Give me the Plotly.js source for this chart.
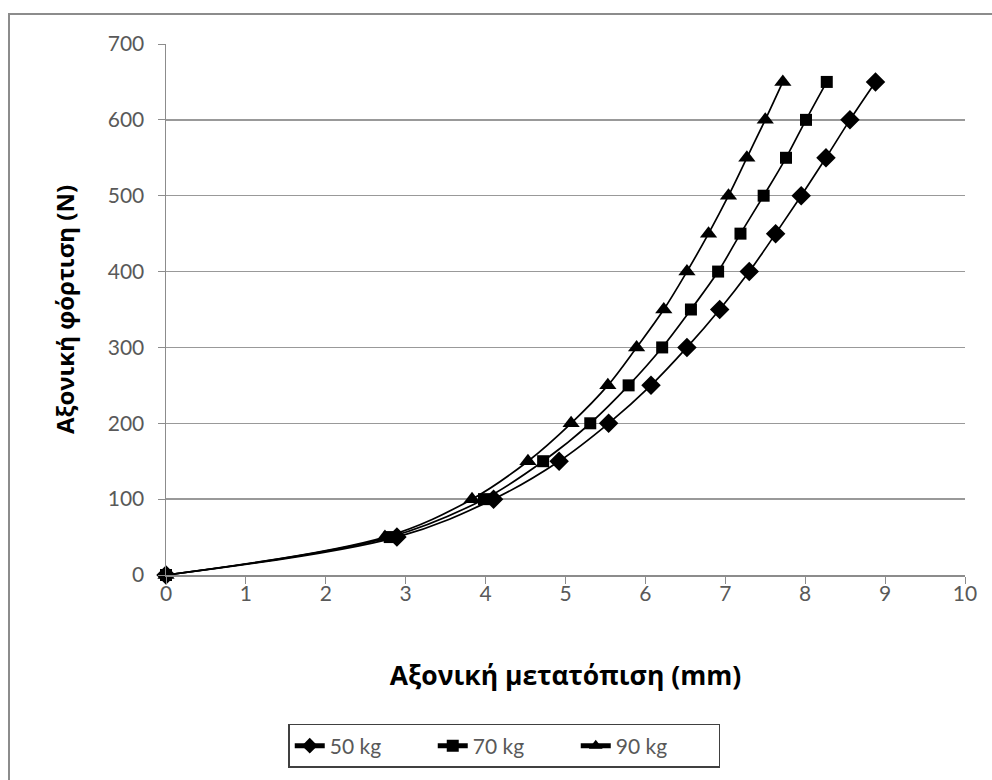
<!DOCTYPE html>
<html>
<head>
<meta charset="utf-8">
<script src="https://cdn.plot.ly/plotly-3.0.1.min.js"></script>
<style>
  html, body { margin: 0; padding: 0; background: #ffffff; }
  #chart { width: 992px; height: 780px; }
</style>
</head>
<body>
<div id="chart"></div>
<script>
// Axial load (N) versus axial displacement (mm) for three body masses
const loadN = [0, 50, 100, 150, 200, 250, 300, 350, 400, 450, 500, 550, 600, 650];
const disp50kg = [0, 2.89, 4.10, 4.92, 5.54, 6.07, 6.52, 6.93, 7.30, 7.63, 7.95, 8.26, 8.56, 8.88];
const disp70kg = [0, 2.80, 3.98, 4.72, 5.31, 5.79, 6.21, 6.57, 6.91, 7.19, 7.48, 7.76, 8.01, 8.27];
const disp90kg = [0, 2.74, 3.83, 4.53, 5.07, 5.53, 5.89, 6.23, 6.52, 6.79, 7.04, 7.27, 7.50, 7.72];
const seriesNames = ['50 kg', '70 kg', '90 kg'];
const xTicks = [0, 1, 2, 3, 4, 5, 6, 7, 8, 9, 10];
const yTicks = [0, 100, 200, 300, 400, 500, 600, 700];

const symbols = ['diamond', 'square', 'triangle-up'];
const sizes = [15, 12, 15];
const dispSeries = [disp50kg, disp70kg, disp90kg];

const traces = dispSeries.map((xs, i) => ({
  x: xs,
  y: loadN,
  name: seriesNames[i],
  type: 'scatter',
  mode: 'lines+markers',
  cliponaxis: false,
  line: { color: '#000000', width: 1.7, shape: 'spline', smoothing: 1 },
  marker: { symbol: symbols[i], size: sizes[i], color: '#000000' }
}));

const tickFont = { family: 'Lato, "Open Sans", sans-serif', size: 21, color: '#595959' };
const titleFontX = { family: '"Open Sans", "Noto Sans", sans-serif', size: 26.5, color: '#000000', weight: 'bold' };
const titleFontY = { family: '"Open Sans", "Noto Sans", sans-serif', size: 24, color: '#000000', weight: 'bold' };

const layout = {
  width: 992,
  height: 780,
  paper_bgcolor: '#ffffff',
  plot_bgcolor: '#ffffff',
  margin: { l: 166, r: 27, t: 44, b: 205 },
  showlegend: true,
  xaxis: {
    range: [0, 10],
    tickvals: xTicks,
    ticktext: xTicks.map(String),
    showgrid: false,
    zeroline: false,
    showline: true,
    linecolor: '#8c8c8c',
    linewidth: 1.5,
    ticks: 'outside',
    ticklen: 7,
    tickcolor: '#8c8c8c',
    ticklabelstandoff: -8,
    tickfont: tickFont,
    title: { text: 'Αξονική μετατόπιση (mm)', font: titleFontX, standoff: 62 }
  },
  yaxis: {
    range: [0, 700],
    tickvals: yTicks,
    ticktext: yTicks.map(String),
    showgrid: true,
    gridcolor: '#999999',
    gridwidth: 1.5,
    zeroline: false,
    showline: true,
    linecolor: '#8c8c8c',
    linewidth: 1.5,
    ticks: 'outside',
    ticklen: 7,
    tickcolor: '#8c8c8c',
    ticklabelstandoff: 9,
    tickfont: tickFont,
    title: { text: 'Αξονική φόρτιση (N)', font: titleFontY, standoff: 26 }
  },
  legend: {
    orientation: 'h',
    x: 0.153,
    xanchor: 'left',
    y: -0.2806,
    yanchor: 'top',
    bordercolor: '#404040',
    borderwidth: 1.5,
    bgcolor: '#ffffff',
    entrywidth: 98,
    entrywidthmode: 'pixels',
    font: { family: 'Lato, "Open Sans", sans-serif', size: 21, color: '#595959' },
    itemsizing: 'constant'
  },
  shapes: [{
    type: 'rect',
    xref: 'paper', yref: 'paper',
    x0: -0.1965, x1: 1.06,
    y0: -0.42, y1: 1.0565,
    line: { color: '#8c8c8c', width: 2 },
    layer: 'below'
  }]
};

Plotly.newPlot('chart', traces, layout, { displayModeBar: false, staticPlot: true });
</script>
</body>
</html>
